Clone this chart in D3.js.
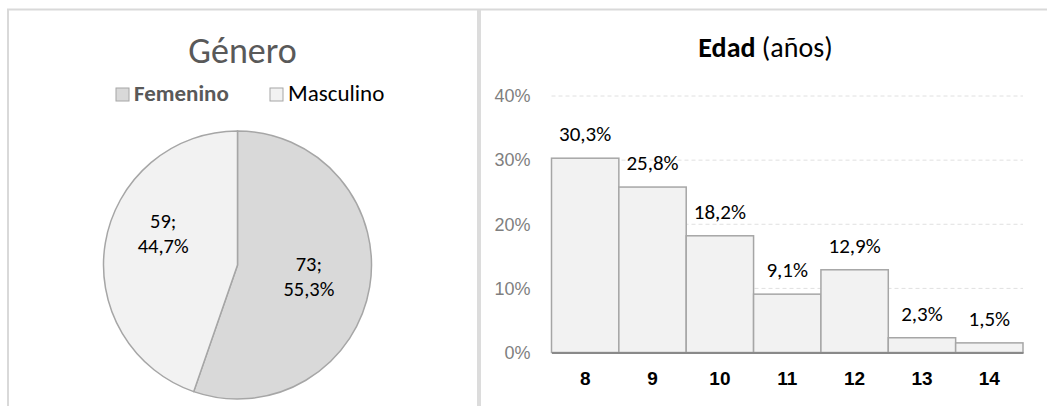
<!DOCTYPE html>
<html>
<head>
<meta charset="utf-8">
<script src="https://cdn.jsdelivr.net/npm/d3@7"></script>
<style>
  body { margin: 0; background: #fff; }
  svg { display: block; font-family: Carlito, Lato, "Open Sans", sans-serif; }
</style>
</head>
<body>
<div id="vis-container"></div>
<script>
// data
const genderLabels = ["Femenino", "Masculino"];
const genderCounts = [73, 59];
const genderPct = ["55,3%", "44,7%"];
const genderColors = ["#d9d9d9", "#f2f2f2"];

const ages = ["8", "9", "10", "11", "12", "13", "14"];
const agePct = [30.3, 25.8, 18.2, 9.1, 12.9, 2.3, 1.5];
const ageTicks = [0, 10, 20, 30, 40];

const W = 1047, H = 406;

const svg = d3.select("#vis-container")
  .append("svg")
    .attr("width", W)
    .attr("height", H);

// panel borders
svg.append("path")
  .attr("d", "M8,406 V9.5 H1047")
  .attr("fill", "none")
  .attr("stroke", "#d9d9d9")
  .attr("stroke-width", 2);
svg.append("rect")
  .attr("x", 477).attr("y", 10)
  .attr("width", 4).attr("height", H - 10)
  .attr("fill", "#dcdcdc");

// ---------- pie: Género ----------
svg.append("text")
  .attr("x", 242.5).attr("y", 63)
  .attr("text-anchor", "middle")
  .attr("font-size", 36)
  .attr("fill", "#595959")
  .text("Género");

// legend
const legX = [116, 270];
const leg = svg.selectAll("g.leg")
  .data(genderLabels)
  .enter().append("g")
    .attr("class", "leg")
    .attr("transform", (d, i) => `translate(${legX[i]}, 88)`);
leg.append("rect")
  .attr("width", 13).attr("height", 13)
  .attr("fill", (d, i) => genderColors[i])
  .attr("stroke", "#a6a6a6");
leg.append("text")
  .attr("x", 18).attr("y", 13)
  .attr("font-size", 23)
  .attr("font-weight", (d, i) => i === 0 ? "bold" : "normal")
  .attr("fill", (d, i) => i === 0 ? "#595959" : "#000")
  .text(d => d);

const cx = 237.5, cy = 265, r = 134;
const pie = d3.pie().sort(null)(genderCounts);
const arc = d3.arc().innerRadius(0).outerRadius(r);

const pieG = svg.append("g")
  .attr("transform", `translate(${cx}, ${cy})`);

pieG.selectAll("path")
  .data(pie)
  .enter().append("path")
    .attr("d", arc)
    .attr("fill", (d, i) => genderColors[i])
    .attr("stroke", "#a6a6a6")
    .attr("stroke-width", 1.5);

// slice labels (excel "best fit" pushes the small slice label up a bit)
const labelArc = d3.arc().innerRadius(r * 0.54).outerRadius(r * 0.54);
const nudge = [[0, 0], [-3, -19]];
const lab = pieG.selectAll("text.lab")
  .data(pie)
  .enter().append("text")
    .attr("class", "lab")
    .attr("text-anchor", "middle")
    .attr("font-size", 20.5)
    .attr("fill", "#000")
    .attr("transform", (d, i) => {
      const c = labelArc.centroid(d);
      return `translate(${c[0] + nudge[i][0]}, ${c[1] + nudge[i][1]})`;
    });
lab.append("tspan").attr("x", 0).attr("dy", -6).text((d, i) => genderCounts[i] + ";");
lab.append("tspan").attr("x", 0).attr("dy", 25).text((d, i) => genderPct[i]);

// ---------- bars: Edad ----------
const margin = { left: 551.5, right: 1023, top: 96, bottom: 352.5 };

const x = d3.scaleBand()
  .domain(ages)
  .range([margin.left, margin.right])
  .padding(0);

const y = d3.scaleLinear()
  .domain([0, 40])
  .range([margin.bottom, margin.top]);

const title = svg.append("text")
  .attr("x", 765.5).attr("y", 57)
  .attr("text-anchor", "middle")
  .attr("font-size", 28)
  .attr("fill", "#000");
title.append("tspan").attr("font-weight", "bold").text("Edad");
title.append("tspan").text(" (años)");

// gridlines
svg.append("g")
  .selectAll("line")
  .data(ageTicks.slice(1))
  .enter().append("line")
    .attr("x1", margin.left).attr("x2", margin.right)
    .attr("y1", d => y(d)).attr("y2", d => y(d))
    .attr("stroke", "#e0e0e0")
    .attr("stroke-dasharray", "4,3");

// y axis
const yAxis = svg.append("g")
  .attr("transform", `translate(${margin.left}, 0)`)
  .call(d3.axisLeft(y).tickValues(ageTicks).tickFormat(d => d + "%").tickSize(0).tickPadding(21));
yAxis.select(".domain").remove();
yAxis.selectAll("text")
  .attr("font-family", null)
  .attr("font-size", 18)
  .attr("fill", "#7f7f7f");

// bars
svg.append("g")
  .selectAll("rect")
  .data(agePct)
  .enter().append("rect")
    .attr("x", (d, i) => x(ages[i]))
    .attr("y", d => y(d))
    .attr("width", x.bandwidth())
    .attr("height", d => y(0) - y(d))
    .attr("fill", "#f2f2f2")
    .attr("stroke", "#a6a6a6")
    .attr("stroke-width", 1.5);

// value labels
svg.append("g")
  .selectAll("text")
  .data(agePct)
  .enter().append("text")
    .attr("x", (d, i) => x(ages[i]) + x.bandwidth() / 2)
    .attr("y", d => y(d) - 17)
    .attr("text-anchor", "middle")
    .attr("font-size", 21)
    .attr("fill", "#000")
    .text(d => d.toFixed(1).replace(".", ",") + "%");

// x axis
const xAxis = svg.append("g")
  .attr("transform", `translate(0, ${margin.bottom})`)
  .call(d3.axisBottom(x).tickSize(0).tickPadding(19));
xAxis.select(".domain")
  .attr("stroke", "#898989")
  .attr("stroke-width", 2);
xAxis.selectAll("text")
  .attr("font-family", null)
  .attr("font-size", 19)
  .attr("font-weight", "bold")
  .attr("fill", "#000");
</script>
</body>
</html>
